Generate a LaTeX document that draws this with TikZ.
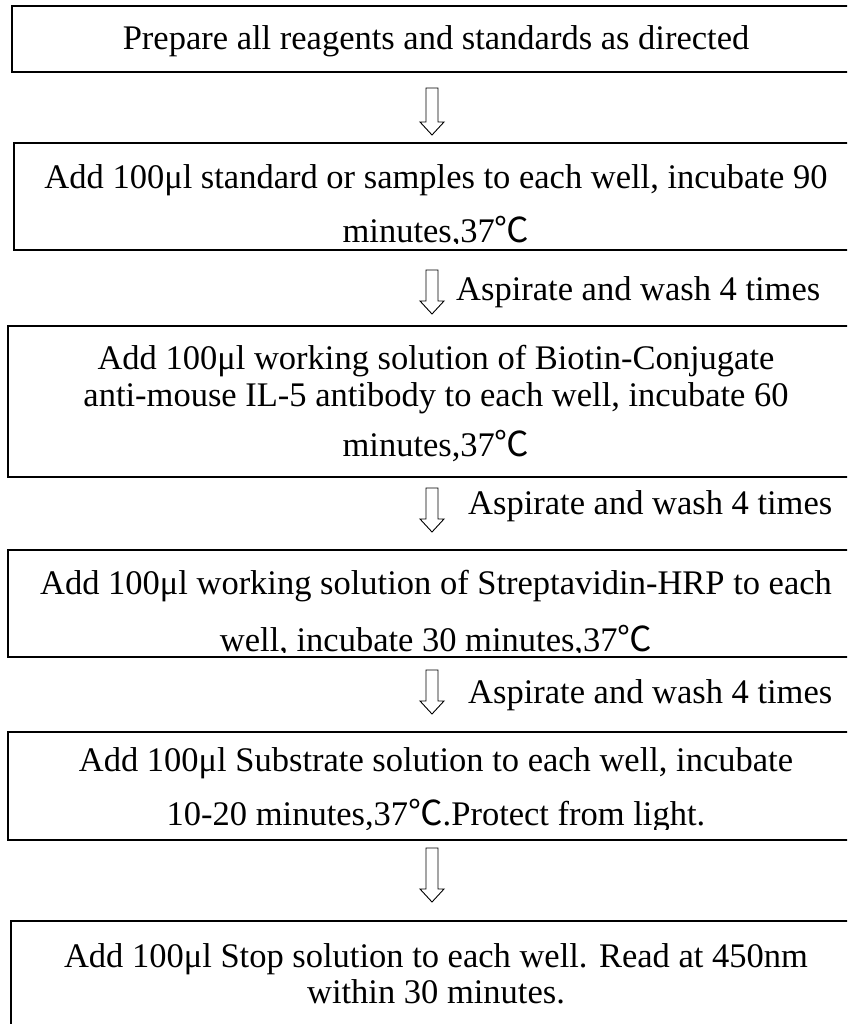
\documentclass[tikz,border=0pt]{standalone}
\usepackage{fontspec}
\setmainfont{Liberation Serif}
\newfontfamily\cjk{Noto Sans CJK SC}
\newcommand{\degC}{{\cjk ℃}}
\tikzset{
  boxline/.style={draw=black, line width=1.5pt, inner sep=0pt, outer sep=0pt, anchor=north west},
  txt/.style={anchor=base, inner sep=0pt, font=\fontsize{34.5}{40}\selectfont},
  lbl/.style={anchor=base west, inner sep=0pt, font=\fontsize{34.5}{40}\selectfont},
  arrowline/.style={draw=black, line width=0.9pt, fill=white, line join=miter},
  pics/darrow/.style={code={
    \draw[arrowline] (-6,0) -- (6,0) -- (6,#1-13) -- (12,#1-13) -- (0,#1) -- (-12,#1-13) -- (-6,#1-13) -- cycle;
  }}
}
\begin{document}
\begin{tikzpicture}[x=1pt,y=-1pt]
\useasboundingbox (0,0) rectangle (847,1024);
\clip (0,0) rectangle (847,1024);
\fill[white] (0,0) rectangle (847,1024);

% boxes
\node[boxline, minimum width=848pt, minimum height=66pt]  (b1) at (12,6) {};
\node[boxline, minimum width=846pt, minimum height=107pt] (b2) at (14,143) {};
\node[boxline, minimum width=856pt, minimum height=151pt] (b3) at (8,326) {};
\node[boxline, minimum width=856pt, minimum height=107pt] (b4) at (8,550) {};
\node[boxline, minimum width=856pt, minimum height=108pt] (b5) at (8,732) {};
\node[boxline, minimum width=850pt, minimum height=130pt] (b6) at (11,921) {};

% texts
\node[txt] (t1) at (436,50) {Prepare all reagents and standards as directed};

\node[txt] (t2a) at (436,189) {Add 100μl standard or samples to each well, incubate 90};
\begin{scope}
  \clip (0,200) rectangle (847,243.5);
  \node[txt] (t2b) at (436,242) {minutes,37\degC};
\end{scope}

\node[txt] (t3a) at (436,369) {Add 100μl working solution of Biotin-Conjugate};
\node[txt] (t3b) at (436,406) {anti-mouse IL-5 antibody to each well, incubate 60};
\node[txt] (t3c) at (436,456) {minutes,37\degC};

\node[txt] (t4a) at (436,594) {Add 100μl working solution of Streptavidin-HRP to each};
\begin{scope}
  \clip (0,610) rectangle (847,652.5);
  \node[txt] (t4b) at (436,651) {well, incubate 30 minutes,37\degC};
\end{scope}

\node[txt] (t5a) at (436,771) {Add 100μl Substrate solution to each well, incubate};
\begin{scope}
  \clip (0,785) rectangle (847,829);
  \node[txt] (t5b) at (436,825) {10-20 minutes,37\degC.Protect from light.};
\end{scope}

\node[txt] (t6a) at (436,967) {Add 100μl Stop solution to each well. Read at 450nm};
\node[txt] (t6b) at (436,1003) {within 30 minutes.};

% labels
\node[lbl] (l1) at (456,300) {Aspirate and wash 4 times};
\node[lbl] (l2) at (468,514) {Aspirate and wash 4 times};
\node[lbl] (l3) at (468,703) {Aspirate and wash 4 times};

% arrows
\pic at (432,88)  {darrow=47};
\pic at (432,270) {darrow=44};
\pic at (432,488) {darrow=44};
\pic at (432,670) {darrow=44};
\pic at (432,848) {darrow=54};
\end{tikzpicture}
\end{document}
